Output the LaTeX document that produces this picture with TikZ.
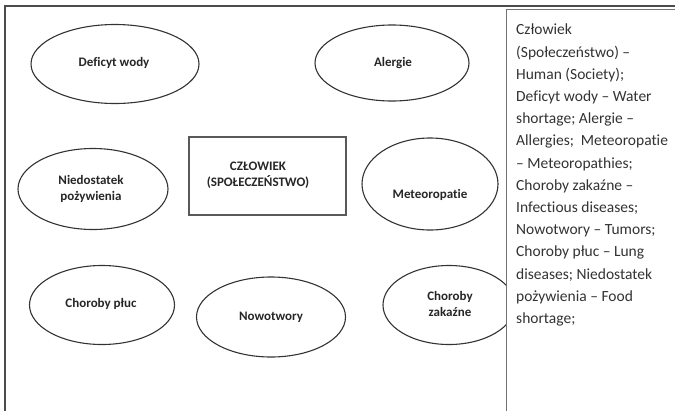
\documentclass[tikz,border=0pt]{standalone}
\usepackage{fontspec}
\setmainfont{Carlito}[RawFeature={-liga}]
\usetikzlibrary{shapes.geometric}
\begin{document}
\begin{tikzpicture}[x=1pt,y=-1pt,
  bub/.style={draw=black!80, line width=1.1pt, ellipse, inner sep=0pt},
  lab/.style={font=\fontsize{13}{16.5}\selectfont\bfseries, align=center, inner sep=0pt, text=black!85},
  legend/.style={font=\fontsize{15.5}{22.2}\selectfont, align=left, inner sep=0pt, anchor=north west, text=black!80}
]
\useasboundingbox (0,0) rectangle (675,410);
\draw[line width=1.3pt, black!70] (5,412) -- (5,6) -- (677,6);

\node[bub, minimum width=168pt, minimum height=79pt] (e1) at (115,64) {};
\node[lab] (t1) at (114,63) {Deficyt wody};
\node[bub, minimum width=154pt, minimum height=76pt] (e2) at (392,63) {};
\node[lab] (t2) at (393,63) {Alergie};
\node[bub, minimum width=150pt, minimum height=81pt] (e3) at (93,189) {};
\node[lab] (t3) at (91,189) {Niedostatek\\pożywienia};
\node[bub, minimum width=136pt, minimum height=92pt] (e4) at (430,184) {};
\node[lab] (t4) at (430,195) {Meteoropatie};
\node[bub, minimum width=145pt, minimum height=79pt] (e5) at (102,305) {};
\node[lab] (t5) at (101,304) {Choroby płuc};
\node[bub, minimum width=149pt, minimum height=80pt] (e6) at (271,317) {};
\node[lab] (t6) at (271,317) {Nowotwory};
\node[bub, minimum width=132pt, minimum height=79pt] (e7) at (449,305) {};
\node[lab] (t7) at (450,304) {Choroby\\zakaźne};

\node[draw=black!65, line width=1.5pt, minimum width=157pt, minimum height=78pt, inner sep=0pt] (hub) at (267.5,176) {};
\node[lab] (th) at (258,175) {CZŁOWIEK\\(SPOŁECZEŃSTWO)};

\node[draw=black!55, line width=1.2pt, fill=white, anchor=north west, minimum width=180pt, minimum height=410pt, inner sep=0pt] (box) at (506,9) {};
\node[legend] (lt) at (516,24) {Człowiek\\(Społeczeństwo) –\\Human (Society);\\Deficyt wody – Water\\shortage; Alergie –\\Allergies;\ \ Meteoropatie\\– Meteoropathies;\\Choroby zakaźne –\\Infectious diseases;\\Nowotwory – Tumors;\\Choroby płuc – Lung\\diseases; Niedostatek\\pożywienia – Food\\shortage;};
\end{tikzpicture}
\end{document}
